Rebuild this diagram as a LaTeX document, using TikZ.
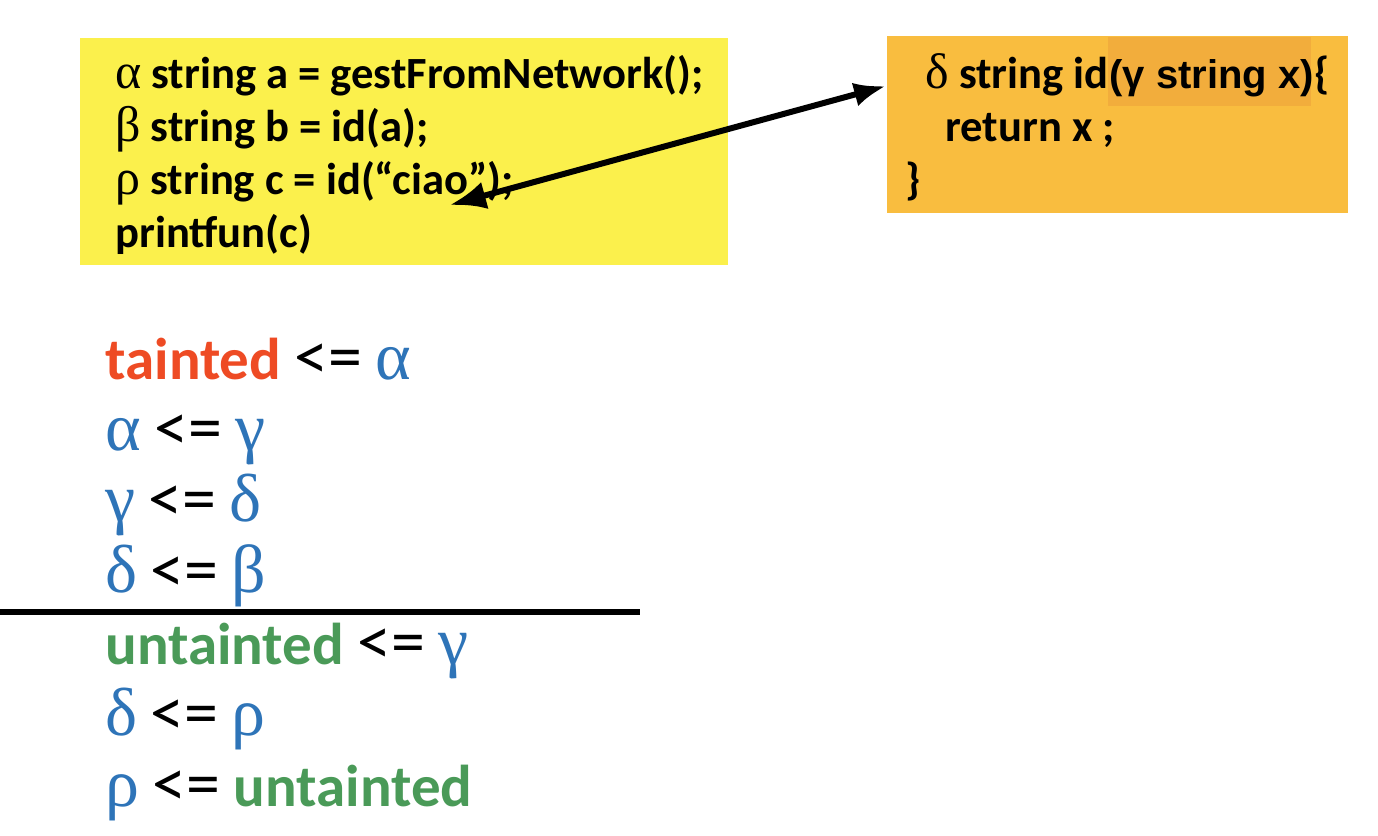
\documentclass[tikz,border=0pt]{standalone}
\usepackage{fontspec}
\usetikzlibrary{arrows.meta}
\setmainfont{Carlito}
\newfontfamily\gkfont{Liberation Serif}
\newfontfamily\arfont{Liberation Sans}
\newcommand\grk[1]{{\gkfont\mdseries\fontsize{25}{30}\selectfont #1}}
\newcommand\cgrk[1]{{\gkfont\mdseries\fontsize{34}{40}\selectfont #1}}
\newcommand\myleq{{\mdseries\fontsize{34}{40}\selectfont <=}}
\definecolor{ybox}{HTML}{FBF04C}
\definecolor{obox}{HTML}{F9BD3F}
\definecolor{ohl}{HTML}{F2AD3C}
\definecolor{tred}{HTML}{EE4B24}
\definecolor{tblue}{HTML}{2E74B8}
\definecolor{tgreen}{HTML}{4A9A58}
\tikzset{
  codeline/.style={anchor=base west, inner sep=0pt, font=\bfseries\fontsize{22.3}{26}\selectfont},
  consline/.style={anchor=base west, inner sep=0pt, font=\fontsize{29.5}{34}\selectfont},
  conn/.style={line width=3pt, {Latex[length=18pt,width=14pt]}-{Latex[length=16pt,width=12pt]}},
}
\begin{document}
\begin{tikzpicture}[x=0.5pt,y=-0.5pt]
\useasboundingbox (0,0) rectangle (1378,836);
% boxes
\fill[ybox] (80,38) rectangle (728,265);
\fill[obox] (887,36) rectangle (1348,213);
\fill[ohl] (1108,37) rectangle (1311,106);
% code in yellow box
\node[codeline] (y1) at (115,88) {\grk{α} string a = gestFromNetwork();};
\node[codeline] (y2) at (115,141) {\grk{β} string b = id(a);};
\node[codeline] (y3) at (115,194) {\grk{ρ} string c = id(“ciao”);};
\node[codeline] (y4) at (115,247) {printfun(c)};
% code in orange box
\node[codeline] (o1a) at (925,88) {\grk{δ} string id};
\node[anchor=base west, inner sep=0pt, font=\arfont\bfseries\fontsize{20}{24}\selectfont] (o1b) at (o1a.base east) {(γ string x)};
\node[codeline] (o1c) at (o1b.base east) {\{};
\node[codeline] (o2) at (945,141) {return x ;};
\node[codeline] (o3) at (905,194) {\}};
% arrow
\coordinate (arrL) at (450,205);
\coordinate (arrR) at (886,86);
\draw[conn] (arrL) -- (arrR);
% constraints
\node[consline] (c1) at (105,379) {{\color{tred}\bfseries tainted} \myleq{} {\color{tblue}\cgrk{α}}};
\node[consline] (c2) at (105,450) {{\color{tblue}\cgrk{α}} \myleq{} {\color{tblue}\cgrk{γ}}};
\node[consline] (c3) at (105,521) {{\color{tblue}\cgrk{γ}} \myleq{} {\color{tblue}\cgrk{δ}}};
\node[consline] (c4) at (105,592) {{\color{tblue}\cgrk{δ}} \myleq{} {\color{tblue}\cgrk{β}}};
\node[consline] (c5) at (105,664) {{\color{tgreen}\bfseries untainted} \myleq{} {\color{tblue}\cgrk{γ}}};
\node[consline] (c6) at (105,735) {{\color{tblue}\cgrk{δ}} \myleq{} {\color{tblue}\cgrk{ρ}}};
\node[consline] (c7) at (105,806) {{\color{tblue}\cgrk{ρ}} \myleq{} {\color{tgreen}\bfseries untainted}};
% separator
\coordinate (sepL) at (0,612);
\coordinate (sepR) at (640,612);
\draw[line width=3pt] (sepL) -- (sepR);
\end{tikzpicture}
\end{document}
